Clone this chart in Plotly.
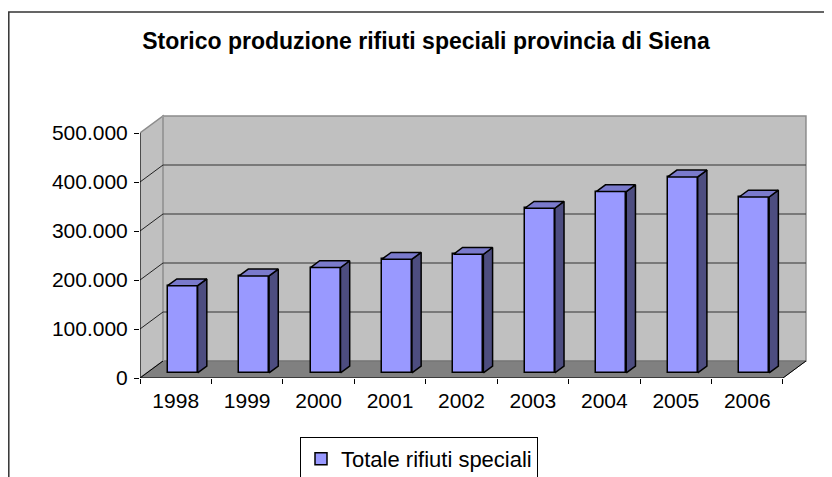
import plotly.graph_objects as go

# ---- data ----
years = ["1998", "1999", "2000", "2001", "2002", "2003", "2004", "2005", "2006"]
totale = [178000, 198000, 215000, 232000, 242000, 336000, 370000, 400000, 359000]
series_name = "Totale rifiuti speciali"
y_ticks = [0, 100000, 200000, 300000, 400000, 500000]
title = "Storico produzione rifiuti speciali provincia di Siena"

# ---- geometry (layout constants) ----
OFF = 8                   # page body margin of the html page
W, H = 832 - OFF, 477 - OFF
# plot area in screen pixels
PL, PR, PT, PB = 140, 812, 110, 378
L, T = PL - OFF, PT - OFF
R, B = W - (PR - OFF), H - (PB - OFF)
PX_CAT = 71.44            # pixels per category
PX_VAL = 49 / 100000      # pixels per unit value
plot_w = W - L - R
plot_h = H - T - B
xmax = plot_w / PX_CAT
ymax = plot_h / PX_VAL
n = len(years)
DX = 23 / PX_CAT          # depth offset (x, data units)
DY = 17 / PX_VAL          # depth offset (y, data units)
F1, F2 = 0.30, 0.70       # bar depth fractions
BW = 0.42                 # bar width (category units)
YTOP = y_ticks[-1]

FONT = "Liberation Sans, Arial, sans-serif"
WALL = "#c0c0c0"
FLOOR = "#808080"
FRONT = "#9999ff"
SIDE = "#4d4d80"
TOP = "#7a7acc"


def px_to_paper_x(px):   # screen px -> paper
    return (px - PL) / plot_w


def px_to_paper_y(py):
    return (PB - py) / plot_h


shapes = []


def path_shape(pts, fill, line_color, lw=1):
    d = "M " + " L ".join(f"{x},{y}" for x, y in pts) + " Z"
    shapes.append(dict(type="path", xref="x", yref="y", path=d, fillcolor=fill,
                       line=dict(color=line_color, width=lw), layer="below"))


def line_shape(x0, y0, x1, y1, color, lw=1):
    shapes.append(dict(type="line", xref="x", yref="y", x0=x0, y0=y0, x1=x1, y1=y1,
                       line=dict(color=color, width=lw), layer="below"))


# back wall, side wall, floor
path_shape([(DX, DY), (n + DX, DY), (n + DX, YTOP + DY), (DX, YTOP + DY)], WALL, "#8c8c8c", 1.5)
path_shape([(0, 0), (DX, DY), (DX, YTOP + DY), (0, YTOP)], WALL, "#8c8c8c", 1.5)
path_shape([(0, 0), (n, 0), (n + DX, DY), (DX, DY)], FLOOR, "#707070", 1)
line_shape(DX, DY, DX, YTOP + DY, "#9a9a9a", 2)

# gridlines on back wall and side wall
for v in y_ticks[1:-1]:
    line_shape(DX, v + DY, n + DX, v + DY, "#333333", 1)
    line_shape(0, v, DX, v + DY, "#222222", 1)

# axis lines
line_shape(0, 0, n, 0, "#000000", 1)
line_shape(0, 0, 0, YTOP, "#000000", 1)
line_shape(0, 0, DX, DY, "#000000", 1)
line_shape(n, 0, n + DX, DY, "#000000", 1)

# outer chart frame
shapes.append(dict(type="rect", xref="paper", yref="paper",
                   x0=px_to_paper_x(OFF + 0.8), x1=px_to_paper_x(850),
                   y0=px_to_paper_y(500), y1=px_to_paper_y(12),
                   line=dict(color="#333333", width=1.5), fillcolor="rgba(0,0,0,0)", layer="below"))

fig = go.Figure()

# bars: front faces
centers = [i + 0.5 for i in range(n)]
base = F1 * DY
fig.add_trace(go.Bar(
    x=[c + F1 * DX for c in centers], y=totale, base=base, width=BW,
    marker=dict(color=FRONT, line=dict(color="#000000", width=1.5)),
    name=series_name, showlegend=True, hoverinfo="skip"))

ddx = (F2 - F1) * DX
ddy = (F2 - F1) * DY
sx, sy, tx, ty = [], [], [], []
for c, v in zip(centers, totale):
    xl = c + F1 * DX - BW / 2
    xr = c + F1 * DX + BW / 2
    sx += [xr, xr + ddx, xr + ddx, xr, xr, None]
    sy += [base, base + ddy, base + ddy + v, base + v, base, None]
    tx += [xl, xr, xr + ddx, xl + ddx, xl, None]
    ty += [base + v, base + v, base + v + ddy, base + v + ddy, base + v, None]
for xs, ys, col in [(sx, sy, SIDE), (tx, ty, TOP)]:
    fig.add_trace(go.Scatter(x=xs, y=ys, mode="lines", fill="toself", fillcolor=col,
                             line=dict(color="#000000", width=1.5), hoverinfo="skip",
                             showlegend=False))

fig.update_layout(
    width=W, height=H,
    margin=dict(l=L, r=R, t=T, b=B, autoexpand=False),
    paper_bgcolor="white", plot_bgcolor="rgba(0,0,0,0)",
    separators=",.",
    font=dict(family=FONT, color="#000000"),
    title=dict(text="<b>" + title + "</b>", x=px_to_paper_x(426), xref="paper", xanchor="center",
               y=1 - (41 - OFF) / H, yanchor="middle", font=dict(size=23, family=FONT)),
    xaxis=dict(range=[0, xmax], tickvals=centers, ticktext=years, ticks="", showgrid=False,
               zeroline=False, showline=False, tickfont=dict(size=21), automargin=False,
               ticklabelstandoff=8,
               minor=dict(tickvals=list(range(n + 1)), ticks="outside", ticklen=5,
                          tickcolor="#000000", showgrid=False)),
    yaxis=dict(range=[0, ymax], tickvals=y_ticks, tickformat=",d", ticks="outside", ticklen=5,
               tickcolor="#000000", showgrid=False, zeroline=False, showline=False,
               tickfont=dict(size=21), automargin=False, ticklabelstandoff=2),
    legend=dict(xref="container", yref="container", x=(300 - OFF) / W, y=1 - (437 - OFF) / H,
                xanchor="left", yanchor="top",
                bordercolor="#000000", borderwidth=1, bgcolor="white",
                font=dict(size=22, family=FONT), orientation="h"),
    shapes=shapes,
    bargap=0,
)

fig.write_html("out.html")
